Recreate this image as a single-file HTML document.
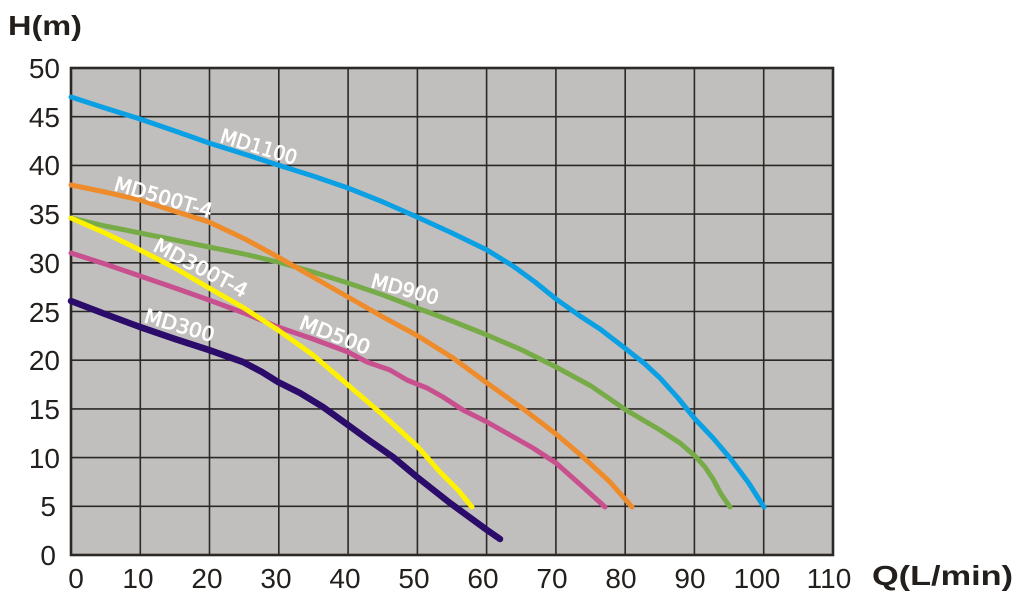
<!DOCTYPE html>
<html><head><meta charset="utf-8"><style>
html,body{margin:0;padding:0;background:#fff;}
svg{display:block;}
</style></head><body>
<svg width="1019" height="600" viewBox="0 0 1019 600" xmlns="http://www.w3.org/2000/svg">
<rect x="0" y="0" width="1019" height="600" fill="#ffffff"/>
<rect x="71" y="68" width="762" height="487" fill="#c1bfbd"/>
<g stroke="#2b2825" stroke-width="1.6" fill="none">
<line x1="140.3" y1="68" x2="140.3" y2="555"/>
<line x1="209.5" y1="68" x2="209.5" y2="555"/>
<line x1="278.8" y1="68" x2="278.8" y2="555"/>
<line x1="348.1" y1="68" x2="348.1" y2="555"/>
<line x1="417.4" y1="68" x2="417.4" y2="555"/>
<line x1="486.6" y1="68" x2="486.6" y2="555"/>
<line x1="555.9" y1="68" x2="555.9" y2="555"/>
<line x1="625.2" y1="68" x2="625.2" y2="555"/>
<line x1="694.4" y1="68" x2="694.4" y2="555"/>
<line x1="763.7" y1="68" x2="763.7" y2="555"/>
<line x1="71" y1="506.3" x2="833" y2="506.3"/>
<line x1="71" y1="457.6" x2="833" y2="457.6"/>
<line x1="71" y1="408.9" x2="833" y2="408.9"/>
<line x1="71" y1="360.2" x2="833" y2="360.2"/>
<line x1="71" y1="311.5" x2="833" y2="311.5"/>
<line x1="71" y1="262.8" x2="833" y2="262.8"/>
<line x1="71" y1="214.1" x2="833" y2="214.1"/>
<line x1="71" y1="165.4" x2="833" y2="165.4"/>
<line x1="71" y1="116.7" x2="833" y2="116.7"/>
</g>
<rect x="71" y="68" width="762" height="487" fill="none" stroke="#2b2825" stroke-width="2.6"/>

<g fill="none" stroke-linejoin="round" stroke-linecap="round">
<polyline stroke="#77ab48" stroke-width="5" points="71,218 105,226 140,233 175,240 209,247 244,254 278,262 313,272 348,283 383,295 417,308 452,321 487,335 522,350 556,367 591,386 626,410 660,430 680,443 695,456 705,467 713,479 721,494 730,507"/>
<polyline stroke="#c8508e" stroke-width="5" points="71,253 105,264 140,276 175,288 209,300 244,313 278,327 313,339 348,352 367,362 390,370 407,380 427,388 443,397 463,410 487,422 510,435 533,448 556,463 583,487 605,507"/>
<polyline stroke="#2b0c6a" stroke-width="6.5" points="71,301 105,314 140,327 175,339 209,350 243,362 262,372 278,382 300,393 323,407 348,425 370,441 393,457 417,477 450,503 487,530 500,539"/>
<polyline stroke="#0b9fe3" stroke-width="5" points="71,97 105,108 140,119 175,131 209,143 244,154 278,165 313,176 348,188 383,202 417,217 452,233 487,250 513,266 535,282 556,299 580,316 600,329 626,349 645,364 660,378 678,398 695,419 713,438 730,458 748,482 764,507"/>
<polyline stroke="#ee8b2b" stroke-width="5" points="71,185 105,192 140,200 177,212 209,222 245,239 278,257 313,277 348,297 383,317 418,336 453,358 487,383 522,408 556,434 583,457 610,482 632,507"/>
<polyline stroke="#fff200" stroke-width="5" points="71,218 105,233 140,250 175,268 209,288 244,308 278,330 313,355 348,385 383,415 417,446 440,472 458,490 472,507"/>
</g>

<g fill="#ffffff" stroke="#ffffff" stroke-width="0.7" font-family="'DejaVu Sans', 'Liberation Sans', sans-serif" font-size="20" font-weight="normal">
<text transform="translate(219,142) rotate(16.8)" textLength="79" lengthAdjust="spacingAndGlyphs">MD1100</text>
<text transform="translate(113,190) rotate(16.1)" textLength="101" lengthAdjust="spacingAndGlyphs">MD500T-4</text>
<text transform="translate(152,250) rotate(27.8)" textLength="103" lengthAdjust="spacingAndGlyphs">MD300T-4</text>
<text transform="translate(143,322) rotate(16.2)" textLength="72" lengthAdjust="spacingAndGlyphs">MD300</text>
<text transform="translate(298,328) rotate(21.4)" textLength="74" lengthAdjust="spacingAndGlyphs">MD500</text>
<text transform="translate(370,287) rotate(15)" textLength="69" lengthAdjust="spacingAndGlyphs">MD900</text>
</g>

<g fill="#231f1c" font-family="'Liberation Sans', Arial, sans-serif" font-size="28">
<text x="60" y="78" text-anchor="end">50</text>
<text x="60" y="127" text-anchor="end">45</text>
<text x="60" y="175" text-anchor="end">40</text>
<text x="60" y="224" text-anchor="end">35</text>
<text x="60" y="273" text-anchor="end">30</text>
<text x="60" y="322" text-anchor="end">25</text>
<text x="60" y="370" text-anchor="end">20</text>
<text x="60" y="419" text-anchor="end">15</text>
<text x="60" y="468" text-anchor="end">10</text>
<text x="56" y="516" text-anchor="end">5</text>
<text x="56" y="565" text-anchor="end">0</text>

<text x="76" y="588" text-anchor="middle">0</text>
<text x="138" y="588" text-anchor="middle">10</text>
<text x="207" y="588" text-anchor="middle">20</text>
<text x="276" y="588" text-anchor="middle">30</text>
<text x="345" y="588" text-anchor="middle">40</text>
<text x="414" y="588" text-anchor="middle">50</text>
<text x="483" y="588" text-anchor="middle">60</text>
<text x="552" y="588" text-anchor="middle">70</text>
<text x="621" y="588" text-anchor="middle">80</text>
<text x="690" y="588" text-anchor="middle">90</text>
<text x="757" y="588" text-anchor="middle">100</text>
<text x="829" y="588" text-anchor="middle">110</text>
</g>

<g fill="#231f1c" font-family="'Liberation Sans', Arial, sans-serif" font-size="28" font-weight="bold">
<text x="8" y="35" textLength="74" lengthAdjust="spacingAndGlyphs">H(m)</text>
<text x="872" y="585" textLength="141" lengthAdjust="spacingAndGlyphs">Q(L/min)</text>
</g>
</svg>
</body></html>
